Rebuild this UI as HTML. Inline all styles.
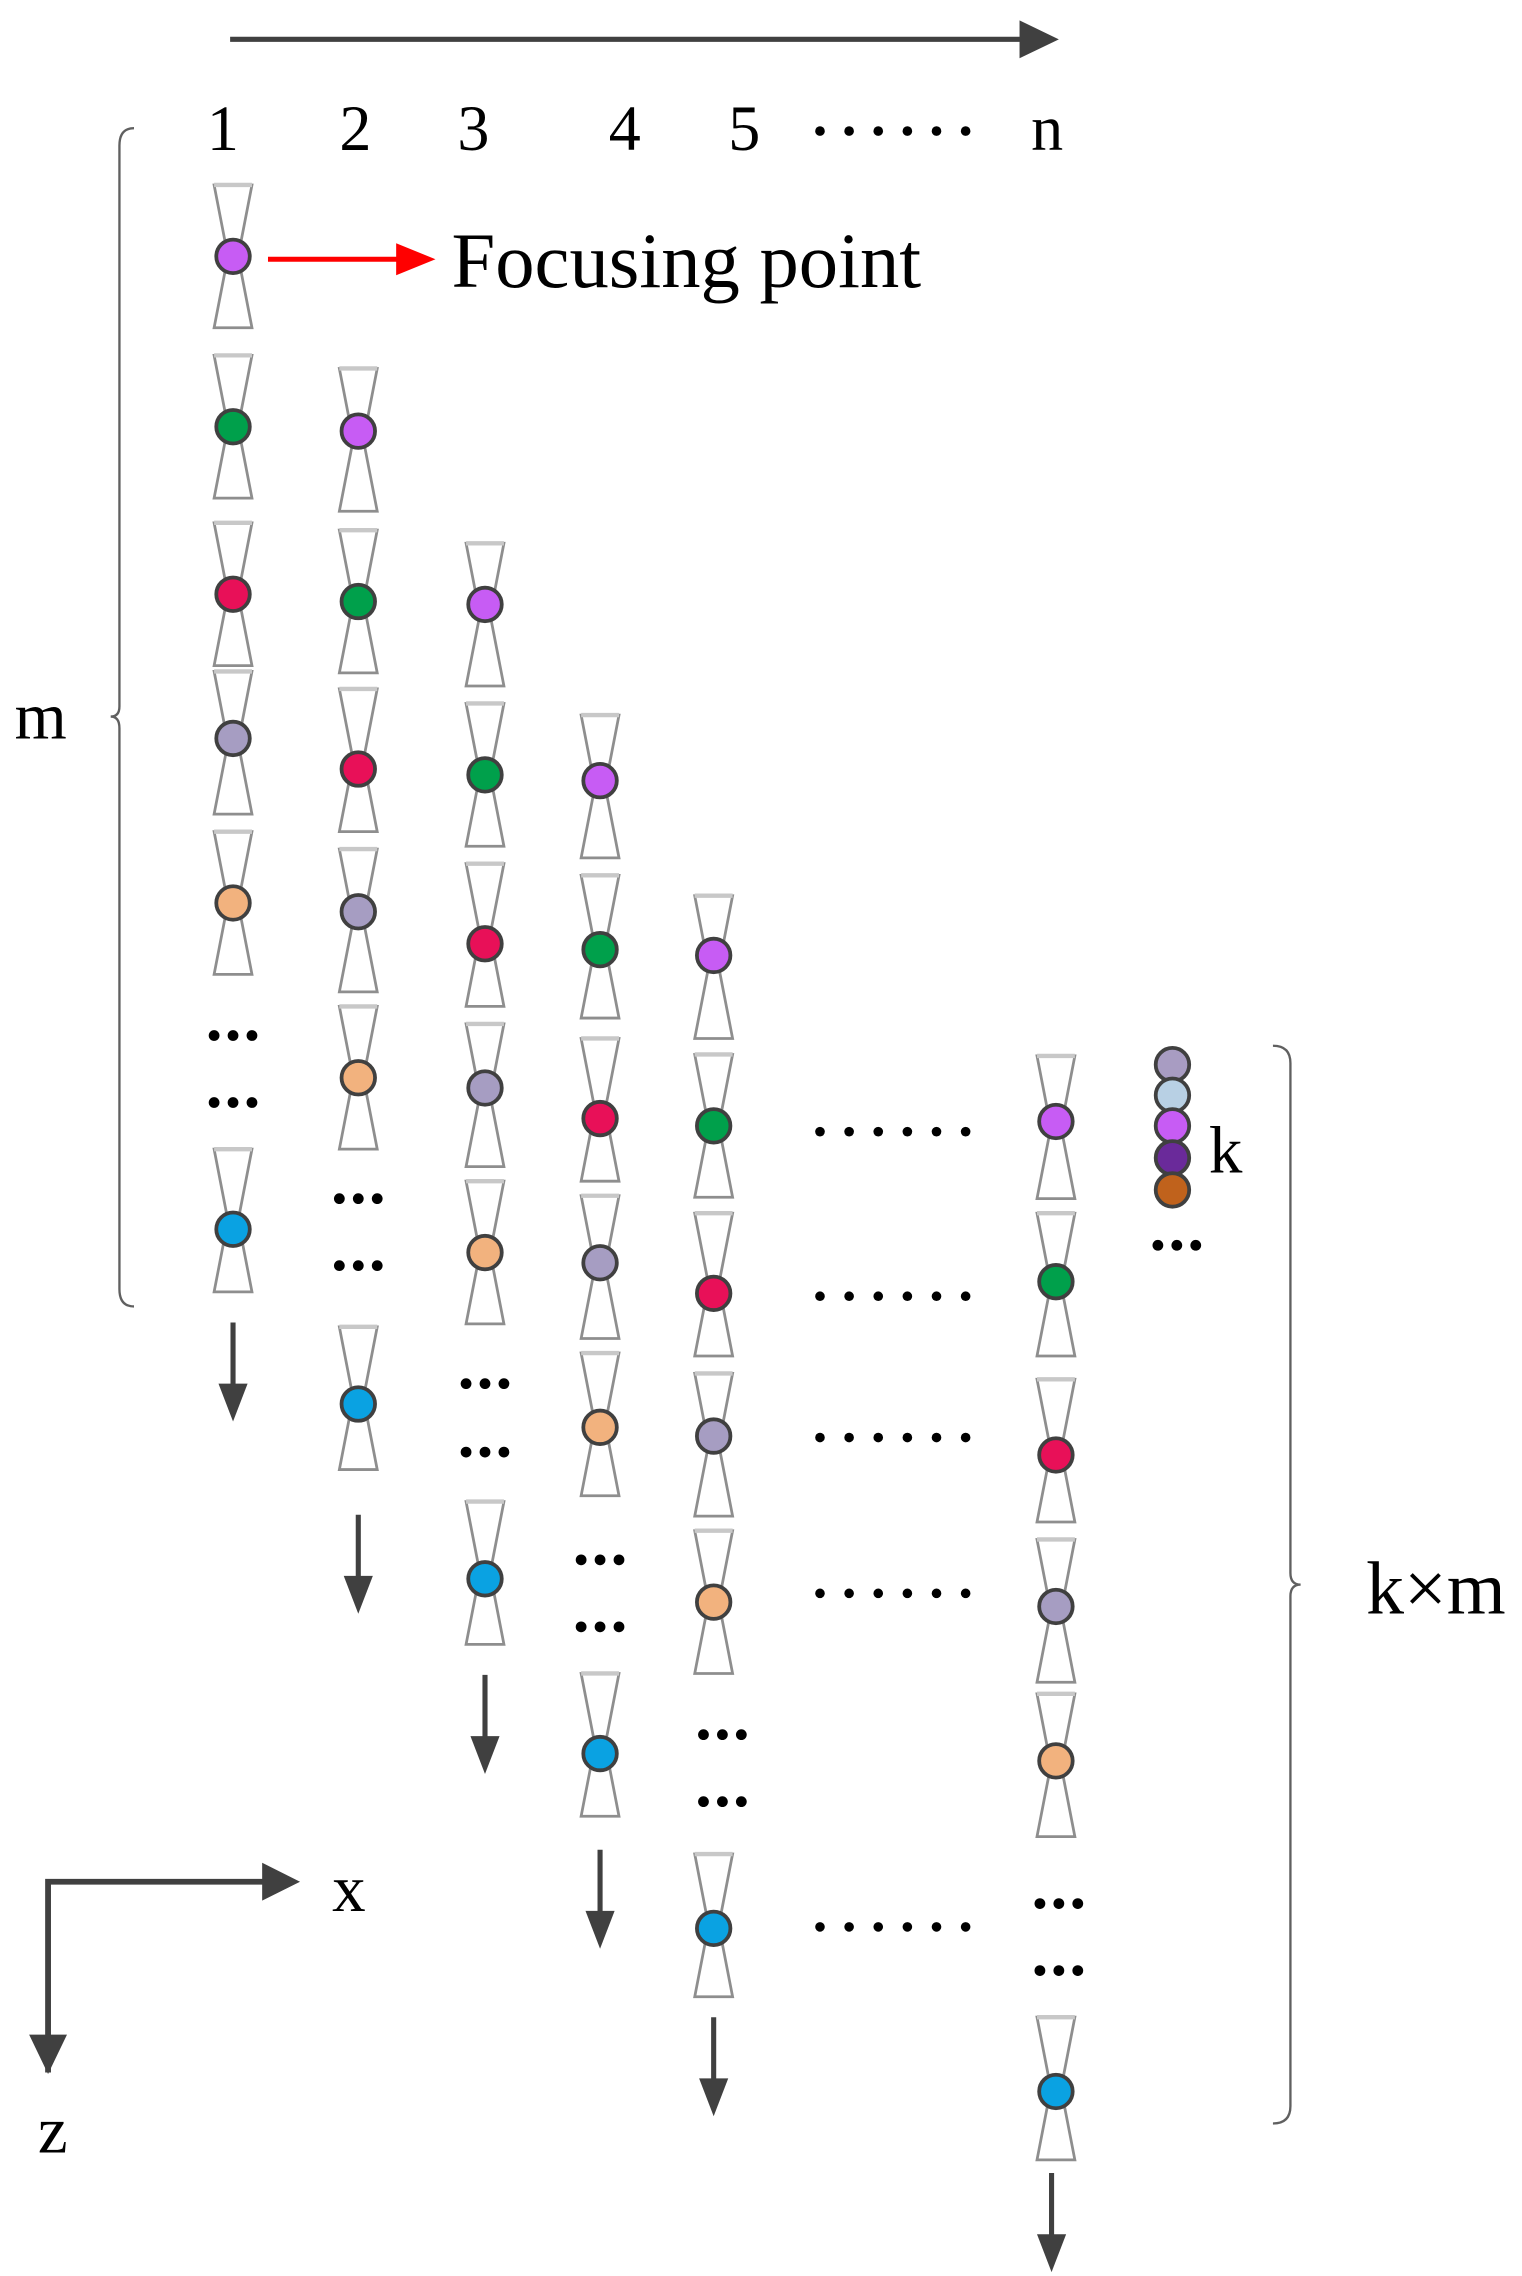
<!DOCTYPE html>
<html><head><meta charset="utf-8"><style>
html,body{margin:0;padding:0;background:#fff;}
svg{display:block;}
text{font-family:"Liberation Serif",serif;fill:#000;}
</style></head><body>
<svg width="1522" height="2276" viewBox="0 0 1045 1562.7" preserveAspectRatio="none" xmlns="http://www.w3.org/2000/svg">
<defs>
<g id="hg"><path d="M-13,-49 L13,-49 L3.5,0 L13,49 L-13,49 L-3.5,0 Z" fill="none" stroke="#8e8e8e" stroke-width="1.9"/><path d="M-13,-49 L13,-49" stroke="#c8c8c8" stroke-width="3"/></g>
<g id="dots"><circle cx="-13" cy="0" r="3.7" fill="#000"/><circle cx="0" cy="0" r="3.7" fill="#000"/><circle cx="13" cy="0" r="3.7" fill="#000"/></g>
<g id="hd"><circle cx="0" cy="0" r="3.3" fill="#000"/><circle cx="20" cy="0" r="3.3" fill="#000"/><circle cx="40" cy="0" r="3.3" fill="#000"/><circle cx="60" cy="0" r="3.3" fill="#000"/><circle cx="80" cy="0" r="3.3" fill="#000"/><circle cx="100" cy="0" r="3.3" fill="#000"/></g>
<g id="arr"><line x1="0" y1="0" x2="0" y2="45" stroke="#404040" stroke-width="3.5"/><path d="M-10,42 L10,42 L0,68 Z" fill="#404040"/></g>
</defs>
<line x1="158" y1="27" x2="705" y2="27" stroke="#404040" stroke-width="3.5"/>
<path d="M700,14 L727,27 L700,40 Z" fill="#404040"/>
<g font-size="44">
<text x="142" y="103">1</text><text x="233" y="103">2</text><text x="314" y="103">3</text><text x="418" y="103">4</text><text x="500" y="103">5</text><text x="708" y="103">n</text>
</g>
<g transform="translate(563,90)"><use href="#hd"/></g>
<line x1="184" y1="178" x2="276" y2="178" stroke="#f00" stroke-width="3.5"/>
<path d="M272,167 L299,178 L272,189 Z" fill="#f00"/>
<text x="310" y="197" font-size="54">Focusing point</text>
<path d="M92,88 Q82,88 82,100 L82,485 Q82,492 76,492 Q82,492 82,500 L82,885 Q82,897 92,897" fill="none" stroke="#606060" stroke-width="1.6"/>
<text x="10" y="507" font-size="46">m</text>
<path d="M874,718 Q886,718 886,730 L886,1080 Q886,1088 893,1088 Q886,1088 886,1096 L886,1446 Q886,1458 874,1458" fill="none" stroke="#606060" stroke-width="1.6"/>
<text x="938" y="1108" font-size="52">k×m</text>

<g>
<use href="#hg" x="160" y="176"/><use href="#hg" x="160" y="293"/><use href="#hg" x="160" y="408"/><use href="#hg" x="160" y="510"/><use href="#hg" x="160" y="620"/><use href="#hg" x="160" y="838"/>
<use href="#hg" x="246" y="302"/><use href="#hg" x="246" y="413"/><use href="#hg" x="246" y="522"/><use href="#hg" x="246" y="632"/><use href="#hg" x="246" y="740"/><use href="#hg" x="246" y="960"/>
<use href="#hg" x="333" y="422"/><use href="#hg" x="333" y="532"/><use href="#hg" x="333" y="642"/><use href="#hg" x="333" y="752"/><use href="#hg" x="333" y="860"/><use href="#hg" x="333" y="1080"/>
<use href="#hg" x="412" y="540"/><use href="#hg" x="412" y="650"/><use href="#hg" x="412" y="762"/><use href="#hg" x="412" y="870"/><use href="#hg" x="412" y="978"/><use href="#hg" x="412" y="1198"/>
<use href="#hg" x="490" y="664"/><use href="#hg" x="490" y="773"/><use href="#hg" x="490" y="882"/><use href="#hg" x="490" y="992"/><use href="#hg" x="490" y="1100"/><use href="#hg" x="490" y="1322"/>
<use href="#hg" x="725" y="774"/><use href="#hg" x="725" y="882"/><use href="#hg" x="725" y="996"/><use href="#hg" x="725" y="1106"/><use href="#hg" x="725" y="1212"/><use href="#hg" x="725" y="1434"/>
</g>
<g stroke="#404040" stroke-width="2.6">
<circle cx="160" cy="176" r="11.5" fill="#c75cf4"/><circle cx="160" cy="293" r="11.5" fill="#00a04b"/><circle cx="160" cy="408" r="11.5" fill="#e81058"/><circle cx="160" cy="507" r="11.5" fill="#a69dc2"/><circle cx="160" cy="620" r="11.5" fill="#f2b27e"/><circle cx="160" cy="844" r="11.5" fill="#0aa2e2"/>
<circle cx="246" cy="296" r="11.5" fill="#c75cf4"/><circle cx="246" cy="413" r="11.5" fill="#00a04b"/><circle cx="246" cy="528" r="11.5" fill="#e81058"/><circle cx="246" cy="626" r="11.5" fill="#a69dc2"/><circle cx="246" cy="740" r="11.5" fill="#f2b27e"/><circle cx="246" cy="964" r="11.5" fill="#0aa2e2"/>
<circle cx="333" cy="415" r="11.5" fill="#c75cf4"/><circle cx="333" cy="532" r="11.5" fill="#00a04b"/><circle cx="333" cy="648" r="11.5" fill="#e81058"/><circle cx="333" cy="747" r="11.5" fill="#a69dc2"/><circle cx="333" cy="860" r="11.5" fill="#f2b27e"/><circle cx="333" cy="1084" r="11.5" fill="#0aa2e2"/>
<circle cx="412" cy="536" r="11.5" fill="#c75cf4"/><circle cx="412" cy="652" r="11.5" fill="#00a04b"/><circle cx="412" cy="768" r="11.5" fill="#e81058"/><circle cx="412" cy="867" r="11.5" fill="#a69dc2"/><circle cx="412" cy="980" r="11.5" fill="#f2b27e"/><circle cx="412" cy="1204" r="11.5" fill="#0aa2e2"/>
<circle cx="490" cy="656" r="11.5" fill="#c75cf4"/><circle cx="490" cy="773" r="11.5" fill="#00a04b"/><circle cx="490" cy="888" r="11.5" fill="#e81058"/><circle cx="490" cy="986" r="11.5" fill="#a69dc2"/><circle cx="490" cy="1100" r="11.5" fill="#f2b27e"/><circle cx="490" cy="1324" r="11.5" fill="#0aa2e2"/>
<circle cx="725" cy="770" r="11.5" fill="#c75cf4"/><circle cx="725" cy="880" r="11.5" fill="#00a04b"/><circle cx="725" cy="999" r="11.5" fill="#e81058"/><circle cx="725" cy="1103" r="11.5" fill="#a69dc2"/><circle cx="725" cy="1209" r="11.5" fill="#f2b27e"/><circle cx="725" cy="1436" r="11.5" fill="#0aa2e2"/>
<circle cx="805" cy="731" r="11.5" fill="#a89cc2"/><circle cx="805" cy="752" r="11.5" fill="#b8d0e4"/><circle cx="805" cy="773" r="11.5" fill="#c75cf4"/><circle cx="805" cy="795" r="11.5" fill="#6a2a9a"/><circle cx="805" cy="817" r="11.5" fill="#c0621c"/>
</g>
<text x="830" y="805" font-size="46">k</text>
<use href="#dots" x="160" y="711"/><use href="#dots" x="160" y="757"/>
<use href="#dots" x="246" y="823"/><use href="#dots" x="246" y="869"/>
<use href="#dots" x="333" y="950"/><use href="#dots" x="333" y="997"/>
<use href="#dots" x="412" y="1071"/><use href="#dots" x="412" y="1117"/>
<use href="#dots" x="496" y="1191"/><use href="#dots" x="496" y="1237"/>
<use href="#dots" x="727" y="1307"/><use href="#dots" x="727" y="1353"/>
<use href="#dots" x="808" y="855"/>
<use href="#hd" x="563" y="777"/><use href="#hd" x="563" y="890"/><use href="#hd" x="563" y="987"/><use href="#hd" x="563" y="1094"/><use href="#hd" x="563" y="1323"/>
<use href="#arr" x="160" y="908"/><use href="#arr" x="246" y="1040"/><use href="#arr" x="333" y="1150"/><use href="#arr" x="412" y="1270"/><use href="#arr" x="490" y="1385"/><use href="#arr" x="722" y="1492"/>
<path d="M33,1423 L33,1292 L185,1292" fill="none" stroke="#404040" stroke-width="4"/>
<path d="M180,1279 L206,1292 L180,1305 Z" fill="#404040"/>
<path d="M20,1397 L46,1397 L33,1424 Z" fill="#404040"/>
<text x="228" y="1312" font-size="46">x</text>
<text x="26" y="1478" font-size="46">z</text>
</svg>
</body></html>
